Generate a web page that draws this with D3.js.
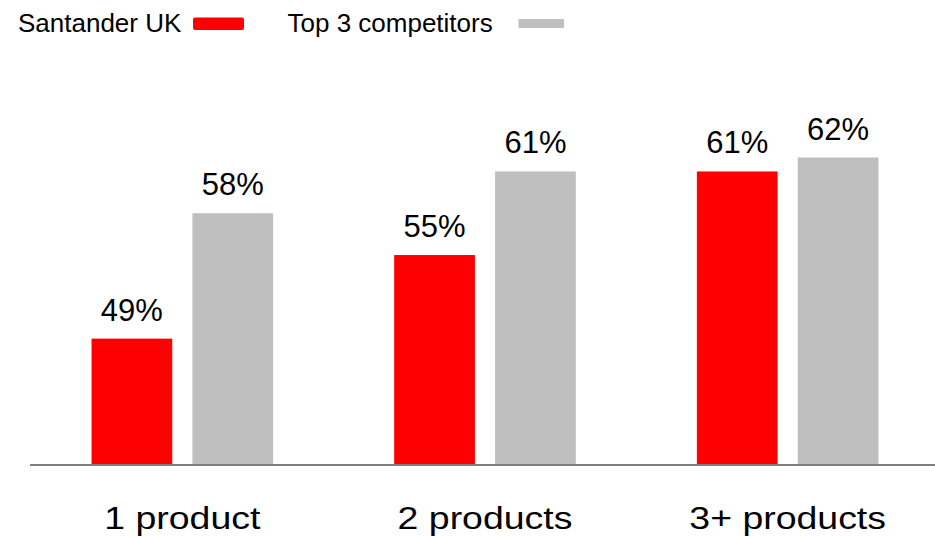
<!DOCTYPE html>
<html>
<head>
<meta charset="utf-8">
<script src="https://cdn.jsdelivr.net/npm/d3@7"></script>
<style>
  html, body { margin: 0; padding: 0; background: #fff; }
  svg { display: block; font-family: "Liberation Sans", Arial, sans-serif; }
</style>
</head>
<body>
<svg id="chart" width="935" height="537"></svg>
<script>
// Share of customers, by number of products held
const categories = ["1 product", "2 products", "3+ products"];
const seriesNames = ["Santander UK", "Top 3 competitors"];
const santanderValues = [49, 55, 61];
const competitorValues = [58, 61, 62];
const seriesColors = ["#ff0000", "#bfbfbf"];

const rows = categories.map((c, i) => ({
  category: c,
  values: [
    { series: seriesNames[0], value: santanderValues[i] },
    { series: seriesNames[1], value: competitorValues[i] }
  ]
}));

const svg = d3.select("#chart");
const baseY = 464;

const x = d3.scaleBand()
  .domain(categories)
  .range([31, 939])
  .paddingInner(0.4)
  .paddingOuter(0.2);

const xSub = d3.scaleBand()
  .domain(seriesNames)
  .range([0, x.bandwidth()])
  .paddingInner(0.2);

const y = d3.scaleLinear()
  .domain([40, 69])
  .range([baseY, 60]);

const color = d3.scaleOrdinal().domain(seriesNames).range(seriesColors);

// Bars and value labels
const groups = svg.append("g").selectAll("g")
  .data(rows)
  .join("g")
  .attr("transform", d => `translate(${x(d.category)},0)`);

groups.selectAll("rect")
  .data(d => d.values)
  .join("rect")
  .attr("x", d => xSub(d.series))
  .attr("y", d => y(d.value))
  .attr("width", xSub.bandwidth())
  .attr("height", d => baseY - y(d.value))
  .attr("fill", d => color(d.series));

groups.selectAll("text")
  .data(d => d.values)
  .join("text")
  .attr("x", d => xSub(d.series) + xSub.bandwidth() / 2)
  .attr("y", d => y(d.value) - 18)
  .attr("text-anchor", "middle")
  .attr("font-size", 31)
  .attr("fill", "#000")
  .text(d => d.value + "%");

// Category axis: baseline rule and labels below it
const xAxis = svg.append("g")
  .attr("transform", `translate(0,${baseY + 1})`)
  .call(d3.axisBottom(x).tickSize(0).tickPadding(0));
xAxis.select(".domain").remove();
xAxis.append("line")
  .attr("x1", 30).attr("x2", 935)
  .attr("y1", 0).attr("y2", 0)
  .attr("stroke", "#808080")
  .attr("stroke-width", 2.2);
xAxis.selectAll(".tick text")
  .attr("y", 0)
  .attr("dy", 0)
  .attr("font-size", 32)
  .attr("font-family", "'Liberation Sans', Arial, sans-serif")
  .attr("fill", "#000")
  .attr("transform", "translate(0,64) scale(1.17,1)");

// Legend
const legend = svg.append("g");
legend.append("text")
  .attr("x", 18).attr("y", 31.5)
  .attr("font-size", 26)
  .text(seriesNames[0]);
legend.append("rect")
  .attr("x", 193).attr("y", 17.5)
  .attr("width", 51).attr("height", 12.5)
  .attr("rx", 2)
  .attr("fill", seriesColors[0]);
legend.append("text")
  .attr("x", 287.5).attr("y", 31.5)
  .attr("font-size", 26)
  .text(seriesNames[1]);
legend.append("rect")
  .attr("x", 518.5).attr("y", 19)
  .attr("width", 45.5).attr("height", 9)
  .attr("fill", seriesColors[1]);
</script>
</body>
</html>
